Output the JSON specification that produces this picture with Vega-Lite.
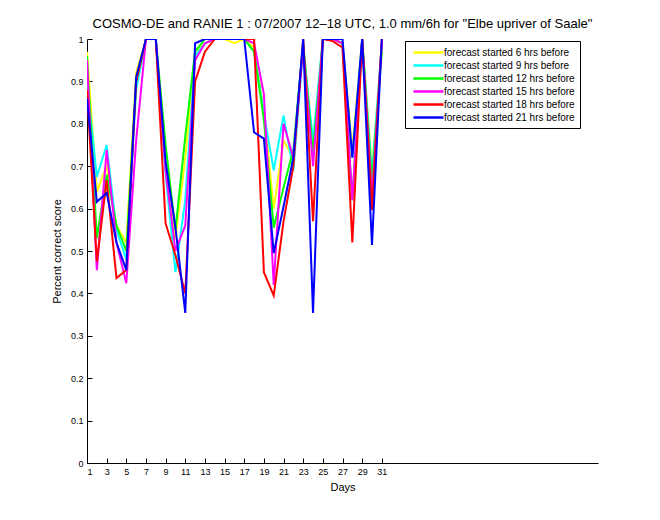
{
  "$schema": "https://vega.github.io/schema/vega-lite/v6.json",
  "width": 511,
  "height": 424,
  "autosize": "none",
  "padding": {"left": 87, "top": 39, "right": 62, "bottom": 57},
  "background": "white",
  "title": {
    "text": "COSMO-DE and RANIE 1 : 07/2007 12–18 UTC, 1.0 mm/6h for \"Elbe upriver of Saale\"",
    "font": "Liberation Sans",
    "fontSize": 13,
    "fontWeight": "normal",
    "color": "black",
    "anchor": "middle",
    "offset": 4
  },
  "config": {
    "view": {"stroke": null},
    "axis": {
      "grid": false,
      "domainColor": "black",
      "tickColor": "black",
      "labelColor": "black",
      "titleColor": "black",
      "labelFont": "Liberation Sans",
      "titleFont": "Liberation Sans",
      "labelFontSize": 9,
      "titleFontSize": 11,
      "titleFontWeight": "normal",
      "tickSize": -5,
      "labelPadding": 9
    }
  },
  "data": {
    "values": [
      {"day": 1, "forecast started 6 hrs before": 0.97, "forecast started 9 hrs before": 0.90, "forecast started 12 hrs before": 0.96, "forecast started 15 hrs before": 0.95, "forecast started 18 hrs before": 0.88, "forecast started 21 hrs before": 0.86},
      {"day": 2, "forecast started 6 hrs before": 0.64, "forecast started 9 hrs before": 0.675, "forecast started 12 hrs before": 0.53, "forecast started 15 hrs before": 0.455, "forecast started 18 hrs before": 0.475, "forecast started 21 hrs before": 0.616},
      {"day": 3, "forecast started 6 hrs before": 0.70, "forecast started 9 hrs before": 0.75, "forecast started 12 hrs before": 0.68, "forecast started 15 hrs before": 0.738, "forecast started 18 hrs before": 0.667, "forecast started 21 hrs before": 0.637},
      {"day": 4, "forecast started 6 hrs before": 0.56, "forecast started 9 hrs before": 0.55, "forecast started 12 hrs before": 0.56, "forecast started 15 hrs before": 0.52, "forecast started 18 hrs before": 0.436, "forecast started 21 hrs before": 0.52},
      {"day": 5, "forecast started 6 hrs before": 0.52, "forecast started 9 hrs before": 0.48, "forecast started 12 hrs before": 0.50, "forecast started 15 hrs before": 0.424, "forecast started 18 hrs before": 0.455, "forecast started 21 hrs before": 0.455},
      {"day": 6, "forecast started 6 hrs before": 0.92, "forecast started 9 hrs before": 0.88, "forecast started 12 hrs before": 0.90, "forecast started 15 hrs before": 0.76, "forecast started 18 hrs before": 0.90, "forecast started 21 hrs before": 0.91},
      {"day": 7, "forecast started 6 hrs before": 1, "forecast started 9 hrs before": 1, "forecast started 12 hrs before": 1, "forecast started 15 hrs before": 1, "forecast started 18 hrs before": 1, "forecast started 21 hrs before": 1},
      {"day": 8, "forecast started 6 hrs before": 1, "forecast started 9 hrs before": 1, "forecast started 12 hrs before": 1, "forecast started 15 hrs before": 1, "forecast started 18 hrs before": 1, "forecast started 21 hrs before": 1},
      {"day": 9, "forecast started 6 hrs before": 0.72, "forecast started 9 hrs before": 0.68, "forecast started 12 hrs before": 0.75, "forecast started 15 hrs before": 0.69, "forecast started 18 hrs before": 0.565, "forecast started 21 hrs before": 0.71},
      {"day": 10, "forecast started 6 hrs before": 0.53, "forecast started 9 hrs before": 0.45, "forecast started 12 hrs before": 0.55, "forecast started 15 hrs before": 0.50, "forecast started 18 hrs before": 0.49, "forecast started 21 hrs before": 0.555},
      {"day": 11, "forecast started 6 hrs before": 0.72, "forecast started 9 hrs before": 0.62, "forecast started 12 hrs before": 0.77, "forecast started 15 hrs before": 0.56, "forecast started 18 hrs before": 0.40, "forecast started 21 hrs before": 0.354},
      {"day": 12, "forecast started 6 hrs before": 0.97, "forecast started 9 hrs before": 0.96, "forecast started 12 hrs before": 0.97, "forecast started 15 hrs before": 0.95, "forecast started 18 hrs before": 0.90, "forecast started 21 hrs before": 0.99},
      {"day": 13, "forecast started 6 hrs before": 0.99, "forecast started 9 hrs before": 0.99, "forecast started 12 hrs before": 1, "forecast started 15 hrs before": 0.99, "forecast started 18 hrs before": 0.97, "forecast started 21 hrs before": 1},
      {"day": 14, "forecast started 6 hrs before": 1, "forecast started 9 hrs before": 1, "forecast started 12 hrs before": 1, "forecast started 15 hrs before": 1, "forecast started 18 hrs before": 1, "forecast started 21 hrs before": 1},
      {"day": 15, "forecast started 6 hrs before": 1, "forecast started 9 hrs before": 1, "forecast started 12 hrs before": 1, "forecast started 15 hrs before": 1, "forecast started 18 hrs before": 1, "forecast started 21 hrs before": 1},
      {"day": 16, "forecast started 6 hrs before": 0.99, "forecast started 9 hrs before": 1, "forecast started 12 hrs before": 1, "forecast started 15 hrs before": 1, "forecast started 18 hrs before": 1, "forecast started 21 hrs before": 1},
      {"day": 17, "forecast started 6 hrs before": 1, "forecast started 9 hrs before": 1, "forecast started 12 hrs before": 1, "forecast started 15 hrs before": 1, "forecast started 18 hrs before": 1, "forecast started 21 hrs before": 1},
      {"day": 18, "forecast started 6 hrs before": 0.98, "forecast started 9 hrs before": 0.97, "forecast started 12 hrs before": 0.97, "forecast started 15 hrs before": 0.99, "forecast started 18 hrs before": 1, "forecast started 21 hrs before": 0.78},
      {"day": 19, "forecast started 6 hrs before": 0.83, "forecast started 9 hrs before": 0.825, "forecast started 12 hrs before": 0.81, "forecast started 15 hrs before": 0.87, "forecast started 18 hrs before": 0.45, "forecast started 21 hrs before": 0.765},
      {"day": 20, "forecast started 6 hrs before": 0.60, "forecast started 9 hrs before": 0.69, "forecast started 12 hrs before": 0.555, "forecast started 15 hrs before": 0.42, "forecast started 18 hrs before": 0.395, "forecast started 21 hrs before": 0.495},
      {"day": 21, "forecast started 6 hrs before": 0.76, "forecast started 9 hrs before": 0.82, "forecast started 12 hrs before": 0.65, "forecast started 15 hrs before": 0.80, "forecast started 18 hrs before": 0.57, "forecast started 21 hrs before": 0.605},
      {"day": 22, "forecast started 6 hrs before": 0.72, "forecast started 9 hrs before": 0.69, "forecast started 12 hrs before": 0.74, "forecast started 15 hrs before": 0.72, "forecast started 18 hrs before": 0.70, "forecast started 21 hrs before": 0.72},
      {"day": 23, "forecast started 6 hrs before": 0.99, "forecast started 9 hrs before": 0.98, "forecast started 12 hrs before": 0.99, "forecast started 15 hrs before": 0.98, "forecast started 18 hrs before": 1, "forecast started 21 hrs before": 1},
      {"day": 24, "forecast started 6 hrs before": 0.72, "forecast started 9 hrs before": 0.76, "forecast started 12 hrs before": 0.73, "forecast started 15 hrs before": 0.70, "forecast started 18 hrs before": 0.57, "forecast started 21 hrs before": 0.354},
      {"day": 25, "forecast started 6 hrs before": 1, "forecast started 9 hrs before": 1, "forecast started 12 hrs before": 1, "forecast started 15 hrs before": 1, "forecast started 18 hrs before": 1, "forecast started 21 hrs before": 1},
      {"day": 26, "forecast started 6 hrs before": 1, "forecast started 9 hrs before": 1, "forecast started 12 hrs before": 1, "forecast started 15 hrs before": 1, "forecast started 18 hrs before": 0.995, "forecast started 21 hrs before": 1},
      {"day": 27, "forecast started 6 hrs before": 0.99, "forecast started 9 hrs before": 0.99, "forecast started 12 hrs before": 0.99, "forecast started 15 hrs before": 0.99, "forecast started 18 hrs before": 0.98, "forecast started 21 hrs before": 1},
      {"day": 28, "forecast started 6 hrs before": 0.74, "forecast started 9 hrs before": 0.72, "forecast started 12 hrs before": 0.62, "forecast started 15 hrs before": 0.62, "forecast started 18 hrs before": 0.52, "forecast started 21 hrs before": 0.72},
      {"day": 29, "forecast started 6 hrs before": 1, "forecast started 9 hrs before": 1, "forecast started 12 hrs before": 1, "forecast started 15 hrs before": 1, "forecast started 18 hrs before": 1, "forecast started 21 hrs before": 1},
      {"day": 30, "forecast started 6 hrs before": 0.69, "forecast started 9 hrs before": 0.68, "forecast started 12 hrs before": 0.66, "forecast started 15 hrs before": 0.627, "forecast started 18 hrs before": 0.597, "forecast started 21 hrs before": 0.514},
      {"day": 31, "forecast started 6 hrs before": 0.98, "forecast started 9 hrs before": 0.99, "forecast started 12 hrs before": 0.97, "forecast started 15 hrs before": 0.99, "forecast started 18 hrs before": 1, "forecast started 21 hrs before": 1}
    ]
  },
  "transform": [
    {"fold": ["forecast started 6 hrs before", "forecast started 9 hrs before", "forecast started 12 hrs before", "forecast started 15 hrs before", "forecast started 18 hrs before", "forecast started 21 hrs before"], "as": ["series", "value"]}
  ],
  "mark": {"type": "line", "strokeWidth": 2, "clip": true},
  "encoding": {
    "x": {
      "field": "day",
      "type": "quantitative",
      "scale": {"domain": [1, 53], "nice": false, "zero": false},
      "axis": {"values": [1, 3, 5, 7, 9, 11, 13, 15, 17, 19, 21, 23, 25, 27, 29, 31], "title": "Days", "titlePadding": 5}
    },
    "y": {
      "field": "value",
      "type": "quantitative",
      "scale": {"domain": [0, 1], "nice": false},
      "axis": {"values": [0, 0.1, 0.2, 0.3, 0.4, 0.5, 0.6, 0.7, 0.8, 0.9, 1], "format": "~g", "title": "Percent correct score", "titlePadding": 8}
    },
    "color": {
      "field": "series",
      "type": "nominal",
      "sort": null,
      "scale": {
        "domain": ["forecast started 6 hrs before", "forecast started 9 hrs before", "forecast started 12 hrs before", "forecast started 15 hrs before", "forecast started 18 hrs before", "forecast started 21 hrs before"],
        "range": ["#ffff00", "#00ffff", "#00ff00", "#ff00ff", "#ff0000", "#0000ff"]
      },
      "legend": {
        "title": null,
        "orient": "none",
        "legendX": 318,
        "legendY": 2,
        "strokeColor": "black",
        "fillColor": "white",
        "padding": 5,
        "cornerRadius": 0,
        "symbolType": "M-3,0H3",
        "symbolSize": 100,
        "symbolStrokeWidth": 2.5,
        "symbolOffset": 12,
        "labelFont": "Liberation Sans",
        "labelFontSize": 10,
        "labelColor": "black",
        "labelOffset": 9,
        "rowPadding": 1
      }
    }
  }
}
